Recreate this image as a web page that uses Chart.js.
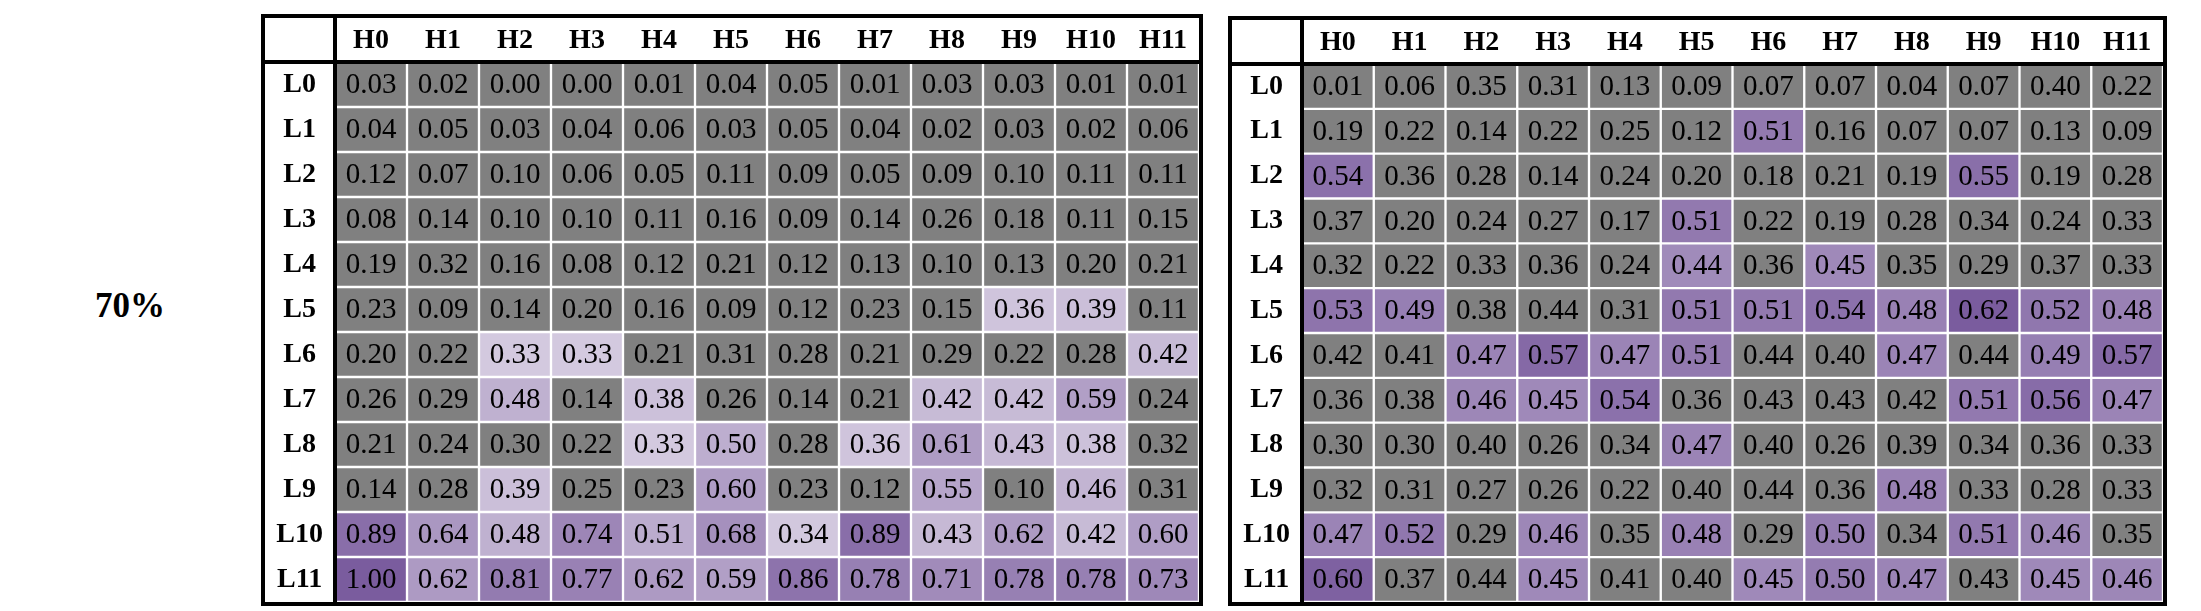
<!DOCTYPE html>
<html>
<head>
<meta charset="utf-8">
<script src="https://cdn.jsdelivr.net/npm/chart.js@4.4.1/dist/chart.umd.min.js"></script>
<style>
  html, body { margin: 0; padding: 0; background: #fff; width: 2201px; height: 611px; overflow: hidden; }
  .frame { position: absolute; border: 4px solid #000; box-sizing: content-box; }
  .frame canvas { display: block; }
  #pct { position: absolute; left: 0; width: 260px; top: 288px; text-align: center;
         font: bold 35px "Liberation Serif", "Times New Roman", serif; line-height: 1; color: #000; }
</style>
</head>
<body>
<div id="pct">70%</div>
<div class="frame" id="frameL" style="left:261px; top:14px; width:934px; height:584px;"><canvas id="chartL" width="934" height="584"></canvas></div>
<div class="frame" id="frameR" style="left:1228px; top:16px; width:931px; height:582px;"><canvas id="chartR" width="931" height="582"></canvas></div>
<script>
// ---- data ----
const colLabels = ["H0","H1","H2","H3","H4","H5","H6","H7","H8","H9","H10","H11"];
const rowLabels = ["L0","L1","L2","L3","L4","L5","L6","L7","L8","L9","L10","L11"];

const leftL0  = [0.03,0.02,0.00,0.00,0.01,0.04,0.05,0.01,0.03,0.03,0.01,0.01];
const leftL1  = [0.04,0.05,0.03,0.04,0.06,0.03,0.05,0.04,0.02,0.03,0.02,0.06];
const leftL2  = [0.12,0.07,0.10,0.06,0.05,0.11,0.09,0.05,0.09,0.10,0.11,0.11];
const leftL3  = [0.08,0.14,0.10,0.10,0.11,0.16,0.09,0.14,0.26,0.18,0.11,0.15];
const leftL4  = [0.19,0.32,0.16,0.08,0.12,0.21,0.12,0.13,0.10,0.13,0.20,0.21];
const leftL5  = [0.23,0.09,0.14,0.20,0.16,0.09,0.12,0.23,0.15,0.36,0.39,0.11];
const leftL6  = [0.20,0.22,0.33,0.33,0.21,0.31,0.28,0.21,0.29,0.22,0.28,0.42];
const leftL7  = [0.26,0.29,0.48,0.14,0.38,0.26,0.14,0.21,0.42,0.42,0.59,0.24];
const leftL8  = [0.21,0.24,0.30,0.22,0.33,0.50,0.28,0.36,0.61,0.43,0.38,0.32];
const leftL9  = [0.14,0.28,0.39,0.25,0.23,0.60,0.23,0.12,0.55,0.10,0.46,0.31];
const leftL10 = [0.89,0.64,0.48,0.74,0.51,0.68,0.34,0.89,0.43,0.62,0.42,0.60];
const leftL11 = [1.00,0.62,0.81,0.77,0.62,0.59,0.86,0.78,0.71,0.78,0.78,0.73];

const rightL0  = [0.01,0.06,0.35,0.31,0.13,0.09,0.07,0.07,0.04,0.07,0.40,0.22];
const rightL1  = [0.19,0.22,0.14,0.22,0.25,0.12,0.51,0.16,0.07,0.07,0.13,0.09];
const rightL2  = [0.54,0.36,0.28,0.14,0.24,0.20,0.18,0.21,0.19,0.55,0.19,0.28];
const rightL3  = [0.37,0.20,0.24,0.27,0.17,0.51,0.22,0.19,0.28,0.34,0.24,0.33];
const rightL4  = [0.32,0.22,0.33,0.36,0.24,0.444,0.36,0.45,0.35,0.29,0.37,0.33];
const rightL5  = [0.53,0.49,0.38,0.44,0.31,0.51,0.51,0.54,0.48,0.62,0.52,0.48];
const rightL6  = [0.42,0.41,0.47,0.57,0.47,0.51,0.44,0.40,0.47,0.44,0.49,0.57];
const rightL7  = [0.36,0.38,0.46,0.45,0.54,0.36,0.43,0.43,0.42,0.51,0.56,0.47];
const rightL8  = [0.30,0.30,0.40,0.26,0.34,0.47,0.40,0.26,0.39,0.34,0.36,0.33];
const rightL9  = [0.32,0.31,0.27,0.26,0.22,0.40,0.44,0.36,0.48,0.33,0.28,0.33];
const rightL10 = [0.47,0.52,0.29,0.46,0.35,0.48,0.29,0.50,0.34,0.51,0.46,0.35];
const rightL11 = [0.60,0.37,0.44,0.45,0.41,0.40,0.45,0.50,0.47,0.43,0.45,0.46];

// highlight thresholds (cells at/above are shaded purple)
const leftThreshold = 0.325;
const rightThreshold = 0.4435;

const leftRows = [leftL0,leftL1,leftL2,leftL3,leftL4,leftL5,leftL6,leftL7,leftL8,leftL9,leftL10,leftL11];
const rightRows = [rightL0,rightL1,rightL2,rightL3,rightL4,rightL5,rightL6,rightL7,rightL8,rightL9,rightL10,rightL11];

// ---- styling ----
const GRAY = '#808080';
const DARK = [122, 92, 158];
const FONT = '"Liberation Serif", "Times New Roman", serif';

function colorFor(v, lo, hi, thr) {
  if (v < thr) return GRAY;
  const t = (v - lo) / (hi - lo);
  const c = DARK.map(d => Math.round(255 + (d - 255) * t));
  return `rgb(${c[0]},${c[1]},${c[2]})`;
}

const tablePlugin = {
  id: 'tablePlugin',
  afterDatasetsDraw(chart) {
    const ctx = chart.ctx;
    ctx.save();
    ctx.fillStyle = '#000';
    ctx.font = '29px ' + FONT;
    ctx.textAlign = 'center';
    ctx.textBaseline = 'middle';
    chart.data.datasets.forEach((ds, i) => {
      const meta = chart.getDatasetMeta(i);
      meta.data.forEach((bar, j) => {
        const p = bar.getProps(['x', 'y', 'base'], true);
        ctx.fillText(ds.values[j].toFixed(2), p.x, (p.y + p.base) / 2 + 1);
      });
    });
    ctx.restore();
  },
  afterDraw(chart) {
    const ctx = chart.ctx;
    const a = chart.chartArea;
    ctx.save();
    ctx.fillStyle = '#000';
    ctx.fillRect(0, a.top - 2, chart.width, 4);
    ctx.fillRect(a.left - 2, 0, 4, chart.height);
    ctx.restore();
  }
};

function makeTable(canvasId, rows, thr) {
  const all = rows.flat();
  const lo = Math.min(...all), hi = Math.max(...all);
  const datasets = rows.map((vals, r) => ({
    label: rowLabels[r],
    values: vals,
    data: vals.map(() => [r - 0.5, r + 0.5]),
    backgroundColor: vals.map(v => colorFor(v, lo, hi, thr)),
    borderColor: '#ffffff',
    borderWidth: 1.5,
    borderSkipped: false,
    grouped: false,
    barPercentage: 1,
    categoryPercentage: 1
  }));
  new Chart(document.getElementById(canvasId), {
    type: 'bar',
    data: { labels: colLabels, datasets },
    options: {
      responsive: false,
      animation: false,
      devicePixelRatio: 1,
      layout: { padding: 0 },
      plugins: { legend: { display: false }, tooltip: { enabled: false }, title: { display: false } },
      scales: {
        x: {
          type: 'category',
          position: 'top',
          offset: true,
          grid: { display: false, drawTicks: false },
          border: { display: false },
          ticks: { color: '#000', font: { family: FONT, size: 28, weight: 'bold', lineHeight: 1.2 },
                   padding: 4, maxRotation: 0, autoSkip: false },
          afterFit(scale) { scale.height = 44; scale.paddingLeft = 0; scale.paddingRight = 0; }
        },
        y: {
          type: 'linear',
          min: -0.5,
          max: 11.5,
          reverse: true,
          grid: { display: false, drawTicks: false },
          border: { display: false },
          afterBuildTicks(scale) { scale.ticks = rowLabels.map((_, i) => ({ value: i })); },
          ticks: { color: '#000', font: { family: FONT, size: 28, weight: 'bold' },
                   crossAlign: 'center', padding: 12,
                   callback: (v) => rowLabels[v] },
          afterFit(scale) { scale.width = 70; scale.paddingTop = 0; scale.paddingBottom = 0; }
        }
      }
    },
    plugins: [tablePlugin]
  });
}

makeTable('chartL', leftRows, leftThreshold);
makeTable('chartR', rightRows, rightThreshold);
</script>
</body>
</html>
